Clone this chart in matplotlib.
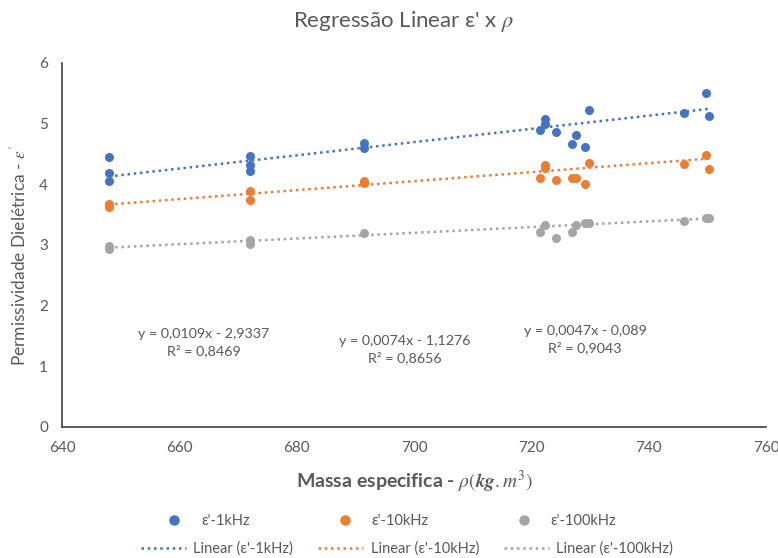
import numpy as np
import matplotlib.pyplot as plt
from matplotlib.lines import Line2D

plt.rcParams['font.family'] = ['Lato', 'DejaVu Sans']
plt.rcParams['mathtext.fontset'] = 'stix'

# dados
x_1k = [648, 648, 648, 672, 672, 672, 691.4, 691.4, 721.4, 722.4, 722.4, 724.2, 726.9,
        727.6, 729.2, 729.8, 746.1, 749.8, 750.3]
y_1k = [4.45, 4.18, 4.05, 4.46, 4.32, 4.22, 4.68, 4.60, 4.89, 5.08, 5.00, 4.87, 4.67,
        4.82, 4.62, 5.22, 5.18, 5.51, 5.13]

x_10k = [648, 648, 672, 672, 691.4, 691.4, 721.4, 722.4, 722.4, 724.2, 726.9, 727.6,
         729.2, 729.8, 746.1, 749.8, 750.3]
y_10k = [3.67, 3.62, 3.89, 3.75, 4.06, 4.02, 4.11, 4.32, 4.27, 4.07, 4.10, 4.11,
         4.00, 4.35, 4.33, 4.49, 4.25]

x_100k = [648, 648, 672, 672, 691.4, 721.4, 722.4, 724.2, 726.9, 727.6, 729.2, 729.8,
          746.1, 749.8, 750.3]
y_100k = [2.98, 2.94, 3.08, 3.02, 3.19, 3.21, 3.33, 3.12, 3.21, 3.33, 3.36, 3.36,
          3.40, 3.44, 3.45]

# coeficientes das linhas de tendencia (do grafico)
coef_1k = (0.0109, -2.9337)
coef_10k = (0.0074, -1.1276)
coef_100k = (0.0047, -0.089)

eq_1k = "y = 0,0109x - 2,9337\nR² = 0,8469"
eq_10k = "y = 0,0074x - 1,1276\nR² = 0,8656"
eq_100k = "y = 0,0047x - 0,089\nR² = 0,9043"

blue = '#4472C4'
orange = '#ED7D31'
gray = '#A5A5A5'
txt = '#595959'

fig = plt.figure(figsize=(7.78, 5.58), dpi=100)
ax = fig.add_axes([62 / 778, 1 - 427 / 558, (766 - 62) / 778, (427 - 63) / 558])

series = [(x_1k, y_1k, coef_1k, blue), (x_10k, y_10k, coef_10k, orange),
          (x_100k, y_100k, coef_100k, gray)]
for xs, ys, (a, b), c in series:
    ax.scatter(xs, ys, s=42, color=c, zorder=3, linewidths=0)
    xl = np.array([min(xs), max(xs)])
    ax.plot(xl, a * xl + b, color=c, linestyle=(0, (1, 1.5)), linewidth=1.8, zorder=2)

ax.set_xlim(640, 760)
ax.set_ylim(0, 6)
ax.set_xticks(range(640, 761, 20))
ax.set_yticks(range(0, 7))
ax.tick_params(length=0, labelsize=11, colors=txt, pad=10)
for s in ['top', 'right']:
    ax.spines[s].set_visible(False)
for s in ['left', 'bottom']:
    ax.spines[s].set_color('#404040')
    ax.spines[s].set_linewidth(1.2)

# equacoes das linhas de tendencia
for eq, px, py in [(eq_1k, 204, 343), (eq_10k, 405, 350), (eq_100k, 585, 340)]:
    ax.annotate(eq, xy=(px, 558 - py), xycoords='figure pixels', ha='center', va='center',
                fontsize=10.3, color=txt, linespacing=1.4)

fig.text(404 / 778, 1 - 22 / 558, "Regressão Linear ε' x $\\rho$", ha='center', va='center',
         fontsize=16, color=txt)
ax.set_ylabel("Permissividade Dielétrica - $\\boldsymbol{\\varepsilon'}$", fontsize=12.5,
              color=txt)
ax.yaxis.set_label_coords(-0.048, 0.47)
ax.set_xlabel("Massa especifica - $\\rho(\\boldsymbol{kg.m^3})$", fontsize=14,
              color=txt, fontweight='bold', labelpad=10)

h_pts = [Line2D([], [], marker='o', linestyle='none', color=c, markersize=6.5)
         for c in (blue, orange, gray)]
fig.legend(h_pts, ["ε'-1kHz", "ε'-10kHz", "ε'-100kHz"], ncol=3, frameon=False,
           loc='center', bbox_to_anchor=(388 / 778, 1 - 521 / 558), fontsize=10.5,
           columnspacing=5.5, handletextpad=0.85, labelcolor=txt)
h_ln = [Line2D([], [], linestyle=(0, (1, 1.5)), color=c, linewidth=1.8) for c in (blue, orange, gray)]
fig.legend(h_ln, ["Linear (ε'-1kHz)", "Linear (ε'-10kHz)", "Linear (ε'-100kHz)"],
           ncol=3, frameon=False, loc='center', bbox_to_anchor=(407 / 778, 1 - 549 / 558),
           fontsize=10.5, columnspacing=1.7, handletextpad=0.5, handlelength=3.1,
           labelcolor=txt)

fig.savefig('out.png', dpi=100)
